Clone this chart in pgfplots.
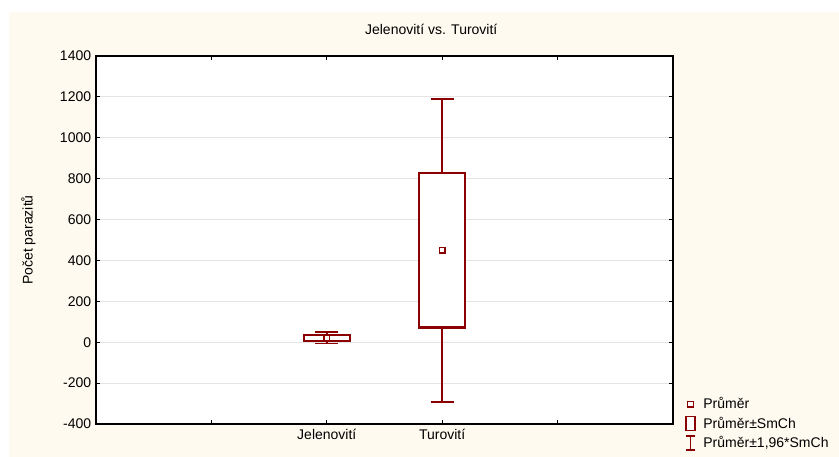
\documentclass[border=0pt]{standalone}
\usepackage{fontspec}
\setmainfont{Liberation Sans}
\usepackage{pgfplots}
\pgfplotsset{compat=1.18}
\definecolor{dr}{RGB}{139,0,0}
\definecolor{cream}{RGB}{254,250,239}
\definecolor{gridc}{RGB}{228,228,228}
\begin{document}
\fontsize{14bp}{17bp}\selectfont
\begin{tikzpicture}
\useasboundingbox (0,0) rectangle (839bp,457bp);
\fill[cream] (9bp,0) rectangle (839bp,445bp);
\begin{axis}[
 at={(96bp,33bp)}, anchor=south west,
 scale only axis, width=577bp, height=368bp,
 axis background/.style={fill=white},
 xmin=-1, xmax=4, ymin=-400, ymax=1400,
 xtick={0,1,2,3}, xticklabels={,Jelenovití,Turovití,},
 ytick={-400,-200,...,1400},
 tick align=inside, major tick length=4bp,
 tick style={black, line width=1.2bp},
 axis line style={black, line width=1.7bp},
 ymajorgrids, grid style={gridc, line width=0.9bp},
 /pgf/number format/1000 sep={},
 /pgf/number format/assume math mode=true,
 ylabel={Počet parazitů},
 ylabel style={at={(-0.117,0.5)}, anchor=center},
 title={Jelenovití vs. Turovití},
 title style={at={(0.581,1)}, anchor=base, yshift=15.3bp},
 legend style={at={(1.0156,0.082)}, anchor=north west, draw=none, fill=none, row sep=3bp, column sep=6bp, nodes={inner sep=1.5bp}},
 legend cell align=left,
 whisk/.style={dr, line width=1.7bp, forget plot},
 bx/.style={draw=dr, fill=white, line width=2.1bp, line join=miter, forget plot},
]
% whiskers: mean +- 1.96*SE
\addplot[whisk] coordinates {(1,-6) (1,49)};
\addplot[whisk] coordinates {(0.9,49) (1.1,49)};
\addplot[whisk] coordinates {(0.9,-6) (1.1,-6)};
\addplot[whisk] coordinates {(2,-292) (2,1191)};
\addplot[whisk] coordinates {(1.9,1191) (2.1,1191)};
\addplot[whisk] coordinates {(1.9,-292) (2.1,-292)};
% boxes: mean +- SE
\addplot[bx] coordinates {(0.8,7.5) (1.2,7.5) (1.2,35.5) (0.8,35.5) (0.8,7.5)} -- cycle;
\addplot[bx] coordinates {(1.8,72) (2.2,72) (2.2,828) (1.8,828) (1.8,72)} -- cycle;
% means
\addplot[only marks, mark=square, mark size=2.9bp, mark options={dr, line width=1.5bp, fill=white}, forget plot] coordinates {(1,21) (2,450)};
\addlegendimage{legend image code/.code={\draw[dr, line width=1.5bp, fill=white] (4.2bp,-2.8bp) rectangle (9.8bp,2.8bp);}}
\addlegendentry{Průměr}
\addlegendimage{legend image code/.code={\draw[dr, line width=1.7bp, fill=white] (2.5bp,-7bp) rectangle (11.5bp,7bp);}}
\addlegendentry{Průměr±SmCh}
\addlegendimage{legend image code/.code={\draw[dr, line width=1.7bp] (7bp,-7bp) -- (7bp,7bp) (2.5bp,7bp) -- (11.5bp,7bp) (2.5bp,-7bp) -- (11.5bp,-7bp);}}
\addlegendentry{Průměr±1,96*SmCh}
\end{axis}
\end{tikzpicture}
\end{document}
